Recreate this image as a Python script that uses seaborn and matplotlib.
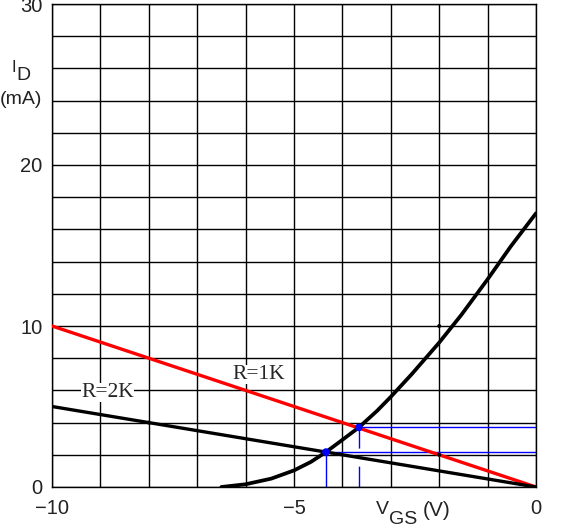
import numpy as np
import pandas as pd
import matplotlib.pyplot as plt
import seaborn as sns

# transfer curve (VGS in V, ID in mA)
vgs_curve = [-6.5, -6.0, -5.47, -5.0, -4.65, -4.34, -4.0, -3.66, -3.28, -3.0,
             -2.57, -2.0, -1.54, -1.0, -0.52, 0.0]
id_curve = [0.0, 0.17, 0.52, 1.03, 1.56, 2.17, 2.93, 3.7, 4.74, 5.6,
            7.0, 8.97, 10.7, 12.9, 14.95, 17.0]

# bias lines
vgs_load = [-10, 0]
id_r1k = [10, 0]
id_r2k = [5, 0]

# operating points (Q points)
q_vgs = [-3.66, -4.34]
q_id = [3.7, 2.17]

# construction dots
dot_vgs = [-8, -2, -2]
dot_id = [4, 10, 2]

sns.set_style("white")
plt.rcParams['font.family'] = ['Liberation Sans', 'DejaVu Sans']

fig = plt.figure(figsize=(5.69, 5.28), dpi=100)
ax = fig.add_axes([52 / 569, 1 - 487 / 528, 484 / 569, 483 / 528])

curve = pd.DataFrame({'VGS': vgs_curve, 'ID': id_curve})
sns.lineplot(x='VGS', y='ID', data=curve, color='black', linewidth=2.7, ax=ax, zorder=4)
sns.lineplot(x=vgs_load, y=id_r1k, color='#ff0000', linewidth=2.4, ax=ax, zorder=3)
sns.lineplot(x=vgs_load, y=id_r2k, color='black', linewidth=2.4, ax=ax, zorder=3)

# blue construction lines
ax.hlines(q_id, q_vgs, 0, color='#0000ff', linewidth=1, zorder=2)
ax.vlines(q_vgs[1], 0, q_id[1], color='#0000ff', linewidth=1, zorder=2)
ax.vlines(q_vgs[0], 0, q_id[0], color='#0000ff', linewidth=1, zorder=2,
          linestyles=[(0, (15, 13))])
ax.scatter(q_vgs, q_id, color='#0000ff', s=30, zorder=6, edgecolor='none')
ax.scatter(dot_vgs, dot_id, color='black', s=8, zorder=5, edgecolor='none')

ax.text(-5.72, 7.0, 'R=1K', family='Liberation Serif', fontsize=15.5, ha='center', va='center',
        bbox=dict(facecolor='white', edgecolor='none', pad=0), zorder=2.5)
ax.text(-8.85, 5.9, 'R=2K', family='Liberation Serif', fontsize=15.5, ha='center', va='center',
        bbox=dict(facecolor='white', edgecolor='none', pad=0), zorder=2.5)

ax.set_xlim(-10, 0)
ax.set_ylim(0, 30)
ax.set_xticks([-10, -5, 0])
ax.set_xticklabels(['\u221210', '\u22125', '0'])
ax.set_yticks([0, 10, 20, 30])
ax.set_xticks(np.arange(-10, 1, 1), minor=True)
ax.set_yticks(np.arange(0, 31, 2), minor=True)
ax.grid(True, which='both', color='black', linewidth=1)
ax.set_axisbelow(True)
ax.tick_params(which='both', length=0, labelsize=14.5, colors='#222222')
ax.tick_params(axis='x', pad=9)
ax.tick_params(axis='y', pad=7)
for s in ax.spines.values():
    s.set_color('black')
    s.set_linewidth(1)
ax.set_xlabel('')
ax.set_ylabel('')

# axis titles
fig.text(14 / 569, 1 - 67 / 528, 'I', fontsize=12, ha='center', va='center', color='#222222')
fig.text(23 / 569, 1 - 76 / 528, 'D', fontsize=14, ha='center', va='center', color='#222222')
fig.text(21 / 569, 1 - 100 / 528, '(mA)', fontsize=14, ha='center', va='center', color='#222222')
fig.text(382 / 569, 1 - 510 / 528, 'V', fontsize=14, ha='center', va='center', color='#222222')
fig.text(403 / 569, 1 - 519 / 528, 'GS', fontsize=14, ha='center', va='center', color='#222222')
fig.text(437 / 569, 1 - 511 / 528, '(V)', fontsize=15, ha='center', va='center', color='#222222')

plt.savefig('out.png', dpi=100)
